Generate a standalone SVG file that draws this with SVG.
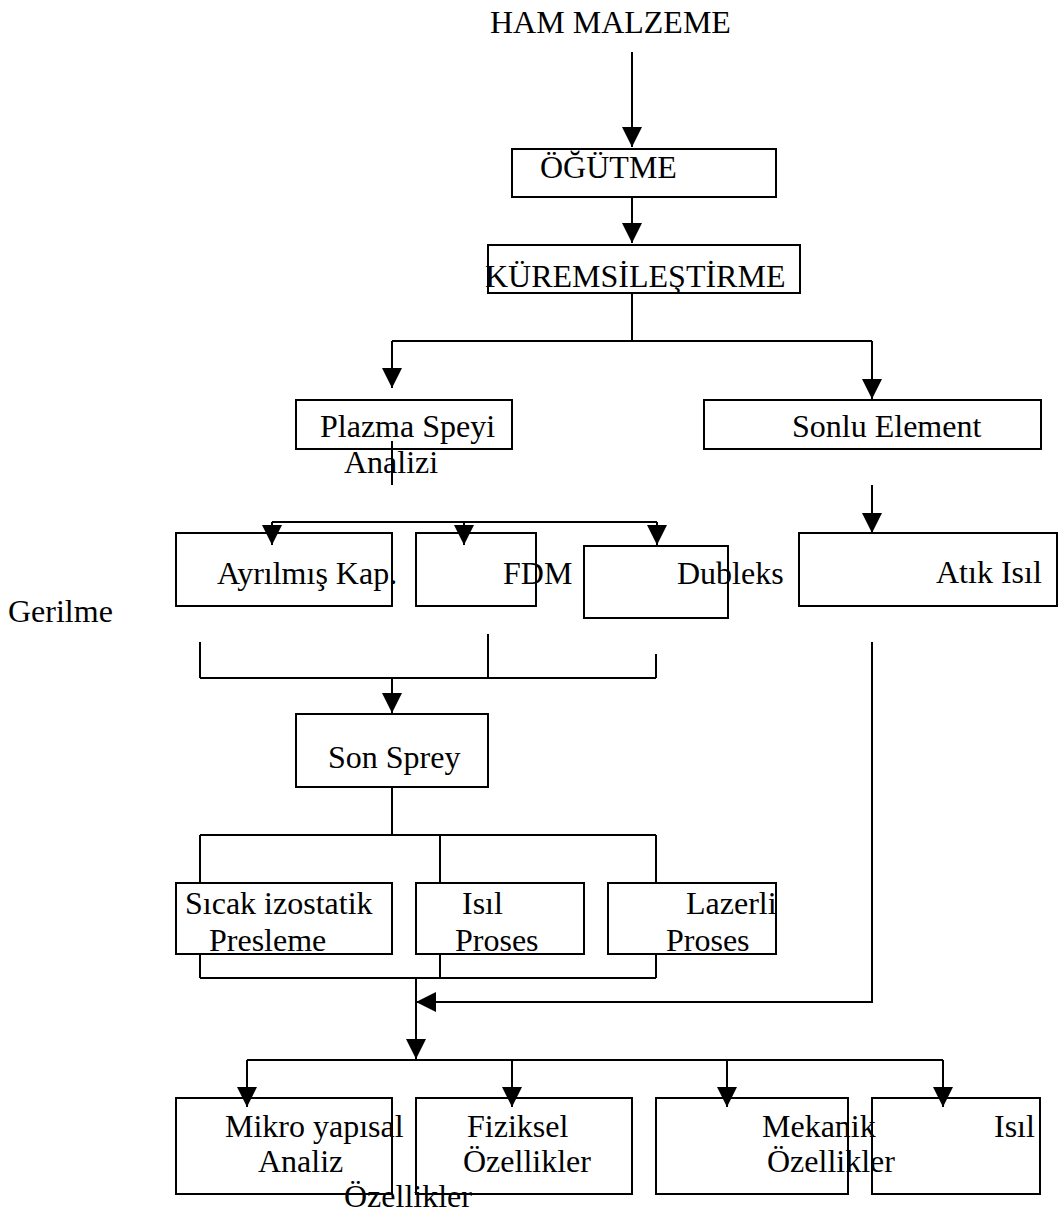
<svg xmlns="http://www.w3.org/2000/svg" width="1058" height="1215" viewBox="0 0 1058 1215">
<style>
  .box{fill:none;stroke:#000;stroke-width:2}
  .ln{fill:none;stroke:#000;stroke-width:2}
  .ar{fill:none;stroke:#000;stroke-width:2;marker-end:url(#ah)}
  text{font-family:"Liberation Serif","Times New Roman",serif;font-size:32px;fill:#000}
</style>
<defs>
  <marker id="ah" viewBox="0 0 20 20" refX="20" refY="10" markerWidth="20" markerHeight="20" markerUnits="userSpaceOnUse" orient="auto">
    <path d="M0,0 L20,10 L0,20 Z" fill="#000"/>
  </marker>
</defs>
<rect width="1058" height="1215" fill="#fff"/>
<g id="connectors">
  <path class="ar" d="M632,52 V147"/>
  <path class="ar" d="M632,197 V243"/>
  <path class="ln" d="M632,293 V341 M392,341 H872"/>
  <path class="ar" d="M392,341 V388"/>
  <path class="ar" d="M872,341 V399"/>
  <path class="ln" d="M392,441 V485"/>
  <path class="ln" d="M272,522 H657"/>
  <path class="ar" d="M272,522 V545"/>
  <path class="ar" d="M464,522 V545"/>
  <path class="ar" d="M657,522 V545"/>
  <path class="ar" d="M872,485 V533"/>
  <path class="ln" d="M200,642 V678 M488,634 V678 M656,654 V678 M200,678 H656"/>
  <path class="ar" d="M392,678 V713"/>
  <path class="ln" d="M392,787 V835 M200,835 H656 M200,835 V883 M440,835 V883 M656,835 V883"/>
  <path class="ln" d="M200,954 V978 M440,954 V978 M656,954 V978 M200,978 H656"/>
  <path class="ar" d="M416,978 V1059"/>
  <path class="ar" d="M872,642 V1002 H416"/>
  <path class="ln" d="M247,1060 H943"/>
  <path class="ar" d="M247,1060 V1107"/>
  <path class="ar" d="M512,1060 V1107"/>
  <path class="ar" d="M727,1060 V1107"/>
  <path class="ar" d="M943,1060 V1107"/>
</g>
<g id="ham"><text x="490" y="33">HAM MALZEME</text></g>
<g id="ogutme"><rect class="box" x="512" y="149" width="264" height="48"/><text x="540" y="178">ÖĞÜTME</text></g>
<g id="kuremsilestirme"><rect class="box" x="488" y="245" width="312" height="48"/><text x="485" y="287">KÜREMSİLEŞTİRME</text></g>
<g id="plazma"><rect class="box" x="296" y="400" width="216" height="49"/><text x="320" y="437">Plazma Speyi</text><text x="344" y="473">Analizi</text></g>
<g id="sonlu"><rect class="box" x="704" y="400" width="337" height="49"/><text x="792" y="437">Sonlu Element</text></g>
<g id="ayrilmis"><rect class="box" x="176" y="533" width="216" height="73"/><text x="217" y="584">Ayrılmış Kap.</text></g>
<g id="fdm"><rect class="box" x="416" y="533" width="120" height="73"/><text x="503" y="584">FDM</text></g>
<g id="dubleks"><rect class="box" x="584" y="546" width="144" height="72"/><text x="677" y="584">Dubleks</text></g>
<g id="atik"><rect class="box" x="799" y="533" width="258" height="73"/><text x="936" y="583">Atık Isıl</text></g>
<g id="gerilme"><text x="8" y="622">Gerilme</text></g>
<g id="sonsprey"><rect class="box" x="296" y="714" width="192" height="73"/><text x="328" y="768">Son Sprey</text></g>
<g id="sicak"><rect class="box" x="176" y="883" width="216" height="71"/><text x="185" y="914">Sıcak izostatik</text><text x="209" y="951">Presleme</text></g>
<g id="isilproses"><rect class="box" x="416" y="883" width="168" height="71"/><text x="462" y="914">Isıl</text><text x="455" y="951">Proses</text></g>
<g id="lazerli"><rect class="box" x="608" y="883" width="168" height="71"/><text x="686" y="914">Lazerli</text><text x="666" y="951">Proses</text></g>
<g id="mikro"><rect class="box" x="176" y="1098" width="216" height="96"/><text x="225" y="1137">Mikro yapısal</text><text x="258" y="1172">Analiz</text></g>
<g id="fiziksel"><rect class="box" x="416" y="1098" width="216" height="96"/><text x="467" y="1137">Fiziksel</text><text x="463" y="1172">Özellikler</text></g>
<g id="mekanik"><rect class="box" x="656" y="1098" width="192" height="96"/><text x="762" y="1137">Mekanik</text><text x="767" y="1172">Özellikler</text></g>
<g id="isil"><rect class="box" x="872" y="1098" width="168" height="96"/><text x="994" y="1137">Isıl</text></g>
<g id="ozellikler"><text x="344" y="1207">Özellikler</text></g>
</svg>
